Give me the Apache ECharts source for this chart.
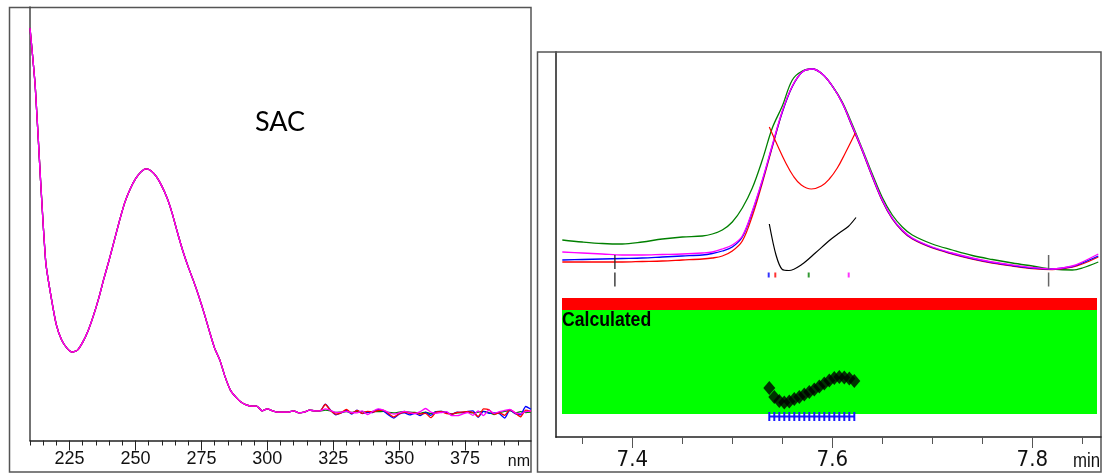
<!DOCTYPE html>
<html><head><meta charset="utf-8">
<script src="https://cdn.jsdelivr.net/npm/echarts@6/dist/echarts.min.js"></script>
<style>html,body{margin:0;padding:0;background:#fff}#c{width:1104px;height:475px}</style>
</head><body><div id="c"></div>
<script>
// ---------------- Left panel: UV spectrum (SAC) ----------------
const wavelengthsNm = [210,212,214,216,218,220,222,224,226,228,230,232,234,236,238,240,242,244,246,248,250,252,254,256,258,260,262,264,266,268,270,272,274,276,278,280,282,284,286,288,290,292,294,296,298,300,302,304,306,308,310,312,314,316,318,320,
322,324,326,328,330,332,334,336,338,340,342,344,346,348,350,352,354,356,358,360,362,364,366,368,370,372,374,376,378,380,382,384,386,388,390,392,394,396,398,400];
// absorbance (mAU), 210-320 nm, common to the four spectra
const specShared = [103.1,88.4,65.1,44.4,35.9,28.9,25.1,23.1,22.1,22.6,24.6,27.4,31.1,35.4,40.4,45.1,50.1,55.1,59.6,62.9,65.4,67.1,67.9,67.4,65.9,63.6,60.6,56.6,51.8,47.3,43.4,39.9,36.1,31.9,27.4,23.1,20.1,15.9,12.6,10.9,9.6,8.9,8.6,8.6,7.4,7.9,7.4,7.1,7.1,7.1,7.4,6.9,7.1,7.6,7.4,7.4];
// 322-400 nm, noisy tails
const tailGreen   = [7.6,7.4,7.0,7.1,7.2,7.0,7.3,7.2,7.0,7.3,7.2,7.3,7.0,6.9,7.1,7.3,7.1,7.0,6.8,7.1,6.7,7.2,7.3,7.0,6.6,6.9,7.0,7.1,6.9,7.1,7.3,7.0,6.5,7.0,7.3,7.5,6.9,7.2,7.0,7.1];
const tailBlue    = [9.1,7.6,6.4,6.9,7.5,6.6,7.6,6.7,7.1,7.0,7.8,7.4,6.4,5.6,6.6,6.9,6.4,6.8,6.2,7.0,6.3,7.2,7.3,6.9,6.6,7.1,7.0,7.3,7.4,5.8,7.3,6.8,6.9,6.7,5.6,7.6,6.7,6.4,8.5,7.8];
const tailRed     = [9.0,7.5,6.6,6.9,7.8,6.8,7.5,6.8,7.3,7.1,7.5,7.6,6.7,5.9,6.7,7.1,6.8,6.9,6.6,6.8,5.7,7.1,7.2,6.7,6.6,7.0,7.1,7.2,7.0,6.0,7.9,7.7,6.6,6.9,6.3,7.7,6.9,5.9,7.6,7.3];
const tailMagenta = [7.9,7.5,7.0,7.1,7.3,7.0,6.9,7.4,6.5,7.3,7.9,7.6,7.0,6.6,6.9,7.3,7.0,6.7,7.2,8.0,7.1,6.8,7.0,7.2,6.2,6.2,6.6,7.0,6.3,7.4,6.2,7.6,6.8,7.2,7.5,7.8,6.9,6.7,7.2,7.4];
const nmMajorTicks = [225,250,275,300,325,350,375];
const nmMinorTicks = [210,215,220,230,235,240,245,255,260,265,270,280,285,290,295,305,310,315,320,330,335,340,345,355,360,365,370,380,385,390,395];

// ---------------- Right panel: chromatogram + peak purity ----------------
const rtMin = [7.33,7.35,7.37,7.39,7.41,7.43,7.45,7.47,7.48,7.49,7.50,7.51,7.52,7.53,7.54,7.55,7.56,7.57,7.58,7.59,7.60,7.61,7.62,7.63,7.64,7.65,7.66,7.67,7.68,7.70,7.72,7.74,7.76,7.78,7.80,7.82,7.84,7.85,7.866];
const chromGreen   = [39.4,39.0,38.7,38.6,39.0,39.6,40.0,40.2,40.6,41.4,43.0,45.8,49.8,55.4,61.8,66.2,71.4,73.2,73.6,72.6,70.2,67.0,62.5,57.6,52.6,47.9,44.4,42.0,40.4,38.6,37.4,36.3,35.5,34.8,34.2,33.6,33.4,33.8,35.0];
const chromRed     = [35.0,35.0,35.0,35.0,35.1,35.2,35.4,35.6,35.8,36.2,37.2,39.2,44.2,50.8,58.0,65.0,70.1,73.0,73.6,72.6,70.2,66.8,62.0,57.2,52.0,47.2,43.6,41.2,39.6,37.8,36.6,35.6,34.8,34.2,33.7,33.5,34.0,34.6,36.0];
const chromBlue    = [35.4,35.5,35.6,35.7,35.8,36.0,36.2,36.4,36.7,37.2,38.0,40.0,45.0,51.2,58.2,65.0,70.1,73.0,73.6,72.6,70.2,66.8,62.1,57.3,52.1,47.3,43.7,41.3,39.7,37.9,36.7,35.7,34.9,34.3,33.8,33.6,34.1,34.8,36.2];
const chromMagenta = [37.0,36.8,36.6,36.4,36.4,36.5,36.6,36.8,37.0,37.6,38.4,40.2,45.2,51.4,58.4,65.2,70.2,73.0,73.6,72.6,70.2,66.8,62.2,57.4,52.2,47.4,43.8,41.4,39.8,38.0,36.8,35.8,35.0,34.4,33.9,33.6,34.2,35.0,36.6];
// purity threshold (red) and purity angle (black) across the peak
const thresholdRt  = [7.537,7.545,7.553,7.561,7.569,7.579,7.589,7.597,7.605,7.613,7.623];
const thresholdVal = [62.0,58.4,55.0,52.2,50.4,49.6,50.2,51.6,53.8,56.8,60.8];
const angleRt  = [7.537,7.5437,7.55,7.5567,7.5694,7.583,7.5977,7.607,7.616,7.6237];
const angleVal = [42.6,36.4,33.5,33.3,34.5,36.8,39.4,40.8,42.1,43.9];
// integration limits
const peakStartRt = 7.3826, peakEndRt = 7.8163;
const limitLow = 29.8, limitHigh = 36.4;
// spectrum apex markers
const apexMarkRt = [7.5364, 7.543, 7.5764, 7.6164];
const apexMarkVal = 32.4;
// purity flag band and calculated region
const bandStartRt = 7.3297, bandEndRt = 7.8647;
const flagTop = 27.8, flagBottom = 25.4, calcBottom = 4.6;
// purity plot points
const purityRt  = [7.537,7.542,7.547,7.552,7.557,7.562,7.567,7.572,7.577,7.582,7.587,7.592,7.597,7.602,7.607,7.612,7.617,7.622];
const purityVal = [9.8,8.0,7.2,6.9,7.1,7.6,8.0,8.5,9.0,9.5,10.1,10.7,11.3,11.8,12.0,11.9,11.7,11.2];
const scanMarkVal = 4.1;
const minMajorTicks = [7.4,7.6,7.8];
const minMinorTicks = [7.35,7.45,7.5,7.55,7.65,7.7,7.75,7.85];

function pairs(xs, ys){ return xs.map((x,i)=>[x, ys[i]]); }
const C = {green:'#008000', blue:'#0000ff', red:'#ff0000', magenta:'#ff00ff'};

const chart = echarts.init(document.getElementById('c'), null, {renderer:'canvas'});
const narrow = "'Liberation Sans Narrow','DejaVu Sans Condensed',sans-serif";
const regular = "'Liberation Sans',Arial,sans-serif";

function specLine(name, tail, color){
  return {type:'line', name, xAxisIndex:0, yAxisIndex:0, data: pairs(wavelengthsNm, specShared.concat(tail)),
    showSymbol:false, symbol:'none', smooth:0.2, lineStyle:{color, width:1.3}, z:3, silent:true};
}
function chromLine(name, vals, color){
  return {type:'line', name, xAxisIndex:2, yAxisIndex:1, data: pairs(rtMin, vals),
    showSymbol:false, symbol:'none', smooth:0.35, lineStyle:{color, width:1.3}, z:3, silent:true};
}

const option = {
  animation:false,
  grid:[{left:30, top:7, width:501, height:433.5}, {left:556, top:52, width:545, height:385}],
  xAxis:[
    {gridIndex:0, type:'value', min:210, max:400, position:'bottom',
      axisLine:{show:true, lineStyle:{color:'#222', width:1.5}},
      axisTick:{show:true, customValues:nmMajorTicks, length:10, lineStyle:{color:'#222', width:1}},
      axisLabel:{customValues:nmMajorTicks, margin:10, fontSize:18, fontFamily:regular, color:'#111'},
      splitLine:{show:false}},
    {gridIndex:0, type:'value', min:210, max:400, position:'bottom',
      axisLine:{show:false}, axisTick:{show:true, customValues:nmMinorTicks, length:5, lineStyle:{color:'#222', width:1}},
      axisLabel:{show:false}, splitLine:{show:false}},
    {gridIndex:1, type:'value', min:7.3237, max:7.8687, position:'bottom',
      axisLine:{show:true, lineStyle:{color:'#222', width:1.5}},
      axisTick:{show:true, customValues:minMajorTicks, length:11, lineStyle:{color:'#555', width:1}},
      axisLabel:{customValues:minMajorTicks, margin:12, fontSize:22, fontFamily:narrow, color:'#111',
        formatter:v=>v.toFixed(1)},
      splitLine:{show:false}},
    {gridIndex:1, type:'value', min:7.3237, max:7.8687, position:'bottom',
      axisLine:{show:false}, axisTick:{show:true, customValues:minMinorTicks, length:7, lineStyle:{color:'#555', width:1}},
      axisLabel:{show:false}, splitLine:{show:false}}
  ],
  yAxis:[
    {gridIndex:0, type:'value', min:0, max:108.375, axisLine:{show:true, lineStyle:{color:'#444', width:1.5}},
      axisTick:{show:false}, axisLabel:{show:false}, splitLine:{show:false}},
    {gridIndex:1, type:'value', min:0, max:77, axisLine:{show:true, lineStyle:{color:'#555', width:2}},
      axisTick:{show:false}, axisLabel:{show:false}, splitLine:{show:false}}
  ],
  series:[
    specLine('green', tailGreen, C.green),
    specLine('blue', tailBlue, C.blue),
    specLine('red', tailRed, C.red),
    specLine('magenta', tailMagenta, C.magenta),
    {type:'custom', xAxisIndex:2, yAxisIndex:1, silent:true, z:1,
      data:[[bandStartRt, bandEndRt, flagBottom, flagTop, 0],[bandStartRt, bandEndRt, calcBottom, flagBottom, 1]],
      encode:{x:[0,1], y:[2,3]},
      renderItem:function(params, api){
        const p0 = api.coord([api.value(0), api.value(3)]);
        const p1 = api.coord([api.value(1), api.value(2)]);
        return {type:'rect', shape:{x:p0[0], y:p0[1], width:p1[0]-p0[0], height:p1[1]-p0[1]},
          style:{fill: api.value(4) === 0 ? '#ff0000' : '#00ff00'}};
      }},
    chromLine('green', chromGreen, C.green),
    chromLine('red', chromRed, C.red),
    chromLine('blue', chromBlue, C.blue),
    chromLine('magenta', chromMagenta, C.magenta),
    {type:'line', xAxisIndex:2, yAxisIndex:1, data:pairs(thresholdRt, thresholdVal), showSymbol:false, symbol:'none',
      smooth:0.4, lineStyle:{color:C.red, width:1.2}, z:4, silent:true},
    {type:'line', xAxisIndex:2, yAxisIndex:1, data:pairs(angleRt, angleVal), showSymbol:false, symbol:'none',
      smooth:0.3, lineStyle:{color:'#000', width:1.2}, z:4, silent:true},
    {type:'line', xAxisIndex:2, yAxisIndex:1, data:[[peakStartRt, limitHigh],[peakStartRt, limitLow]], showSymbol:false, symbol:'none',
      lineStyle:{color:'#222', width:1.3, type:[14,3.5]}, z:4, silent:true},
    {type:'line', xAxisIndex:2, yAxisIndex:1, data:[[peakEndRt, limitHigh],[peakEndRt, limitLow]], showSymbol:false, symbol:'none',
      lineStyle:{color:'#666', width:1.5, type:[14,3.5]}, z:4, silent:true},
    {type:'scatter', xAxisIndex:2, yAxisIndex:1, symbol:'rect', symbolSize:[2,5], z:4, silent:true,
      data: apexMarkRt.map((t,i)=>({value:[t, apexMarkVal], itemStyle:{color:[C.blue, C.red, C.green, C.magenta][i]}}))},
    {type:'scatter', xAxisIndex:2, yAxisIndex:1, symbol:'diamond', symbolSize:[12,14], z:5, silent:true,
      itemStyle:{color:'#000'}, data:pairs(purityRt, purityVal)},
    {type:'line', xAxisIndex:2, yAxisIndex:1, data:purityRt.map(t=>[t, scanMarkVal]), symbol:'rect', symbolSize:[2,9],
      showSymbol:true, showAllSymbol:true, itemStyle:{color:'#1a1aff'}, lineStyle:{color:'#1a1aff', width:2}, z:5, silent:true}
  ],
  graphic:[
    {type:'rect', silent:true, z:-10, shape:{x:9.5, y:7.5, width:521.5, height:464.5}, style:{fill:'none', stroke:'#555', lineWidth:1.5}},
    {type:'rect', silent:true, z:-10, shape:{x:537.5, y:52, width:563.5, height:420}, style:{fill:'none', stroke:'#555', lineWidth:1.5}},
    {type:'text', silent:true, x:280, y:122, style:{text:'SAC', font:'27px Lato', fill:'#000', align:'center', verticalAlign:'middle'}},
    {type:'text', silent:true, x:530, y:454, style:{text:'nm', font:"16px 'Liberation Sans', Arial, sans-serif", fill:'#111', align:'right', verticalAlign:'top'}},
    {type:'text', silent:true, x:1100, y:451, scaleX:0.8, style:{text:'min', font:"21px 'Liberation Sans', Arial, sans-serif", fill:'#111', align:'right', verticalAlign:'top'}},
    {type:'text', silent:true, z:100, x:562, y:310, scaleX:0.84, style:{text:'Calculated', font:"bold 21px 'Liberation Sans', Arial, sans-serif", fill:'#000', align:'left', verticalAlign:'top'}}
  ]
};
chart.setOption(option);
</script>
</body></html>
